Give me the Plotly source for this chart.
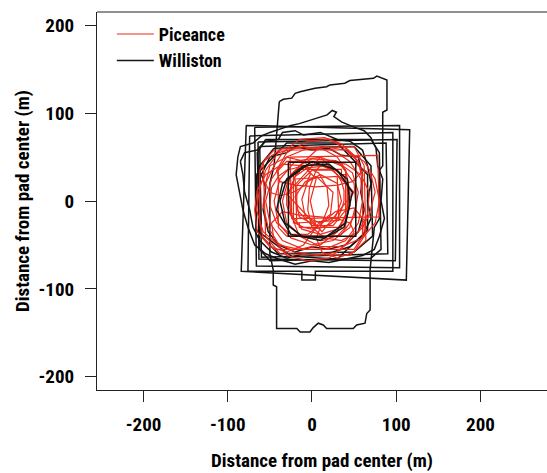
import plotly.graph_objects as go

# ---------------- data (metres from pad centre) ----------------
x_tick_values = [-200, -100, 0, 100, 200]
y_tick_values = [-200, -100, 0, 100, 200]
x_tick_labels = ["-200", "-100", "0", "100", "200"]
y_tick_labels = ["-200", "-100", "0", "100", "200"]

series_names = ["Piceance", "Williston"]

# Williston pad outlines (outer, drawn below the Piceance outlines)
williston_outer = [
    [(-78, 86), (116, 81), (112, -90), (-84, -80), (-78, 86)],
    [(-38.8, 113), (-34, 115.7), (-24, 117), (-20, 122.5), (-14, 124.3), (3.6, 128.2), (17.4, 130),
     (21.4, 132), (39, 134), (45, 137), (73, 139.6), (77, 142), (89, 137.7), (89, 103.5), (84, 101),
     (84, 40), (80, 35), (80, -20), (74, -30), (69, -78), (69, -124), (65, -128), (63, -139),
     (53, -141), (49, -145), (17.4, -145), (13.4, -141), (7.5, -139), (1.5, -144), (-2.4, -149),
     (-14, -149), (-18, -145), (-42, -145), (-42, -97.5), (-46, -95.6), (-46, -78.5), (-50, -60),
     (-50, 20), (-45, 40), (-42, 80), (-38.8, 113)],
    [(-68, 84), (104, 86), (104, -76), (-66, -74), (-68, 84)],
    [(-74, 74), (96, 78), (96, -80), (4, -80), (4, -90), (-12, -90), (-12, -80), (-76, -80), (-74, 74)],
    [(-88, 50), (-85, 62), (-70, 66), (-60, 74), (-50, 78), (-38, 82), (-25, 86), (-15, 88), (-2, 92),
     (10, 95), (18, 98), (24, 103), (29, 101), (26, 96), (35, 90), (50, 84), (62, 80), (70, 72),
     (76, 60), (78, 40), (84, 25), (82, 0), (86, -20), (80, -40), (74, -55), (60, -62), (40, -66),
     (20, -70), (0, -68), (-20, -72), (-40, -66), (-55, -60), (-68, -50), (-76, -30), (-82, -10),
     (-86, 10), (-90, 30), (-88, 50)],
    [(-64, 67), (101, 70), (99, -68), (-63, -66), (-64, 67)],
    [(-62, 62), (88, 66), (90, -60), (-60, -64), (-62, 62)],
    [(-55, 70), (70, 70), (80, 55), (82, -55), (70, -65), (-50, -68), (-62, -55), (-65, 55), (-55, 70)],
    [(-85, 45), (-80, 55), (-65, 58), (-55, 68), (-40, 70), (-35, 78), (-20, 80), (-10, 75), (10, 78),
     (30, 70), (45, 68), (60, 58), (66, 40), (70, 20), (66, 0), (70, -20), (60, -40), (45, -52),
     (25, -58), (10, -62), (-10, -60), (-30, -65), (-48, -58), (-62, -45), (-70, -30), (-74, -10),
     (-80, 10), (-82, 30), (-85, 45)],
    [(-66, 30), (-30, 66), (30, 66), (66, 30), (66, -33), (30, -66), (-24, -63), (-66, -33), (-66, 30)],
    [(-45, 60), (50, 62), (70, 40), (72, -40), (50, -58), (-40, -60), (-60, -40), (-62, 40), (-45, 60)],
    [(-50, 50), (-30, 55), (-20, 62), (0, 58), (20, 60), (35, 52), (55, 50), (60, 30), (58, 10),
     (62, -10), (55, -35), (40, -50), (20, -55), (0, -52), (-20, -58), (-40, -50), (-52, -35),
     (-58, -10), (-55, 15), (-60, 30), (-50, 50)],
]

# Williston inner outlines (drawn above the Piceance outlines)
williston_inner = [
    [(-10, 40), (20, 42), (42, 25), (45, -5), (38, -30), (15, -42), (-12, -40), (-32, -25), (-38, 0),
     (-30, 25), (-10, 40)],
    [(0, 45), (30, 35), (48, 10), (40, -25), (10, -45), (-25, -38), (-42, -10), (-35, 20), (0, 45)],
    [(-28, 44), (52, 44), (52, -40), (-28, -40), (-28, 44)],
]

# Piceance pad outlines
piceance = [
    [(-20, 45), (10, 50), (35, 40), (50, 20), (52, -5), (45, -30), (25, -45), (0, -50), (-25, -42),
     (-40, -25), (-45, 0), (-38, 25), (-20, 45)],
    [(-5, 60), (25, 58), (45, 45), (58, 25), (60, 0), (55, -25), (40, -45), (15, -55), (-10, -55),
     (-35, -45), (-50, -25), (-55, 0), (-48, 25), (-30, 50), (-5, 60)],
    [(-35, 40), (-30, 45), (30, 45), (35, 40), (40, 35), (40, -30), (35, -35), (30, -40), (-30, -40),
     (-35, -35), (-40, -30), (-40, 35), (-35, 40)],
    [(0, 35), (25, 35), (42, 18), (42, -8), (25, -28), (0, -28), (-18, -10), (-18, 18), (0, 35)],
    [(-40, 55), (-10, 62), (15, 58), (30, 50), (40, 35), (45, 10), (40, -15), (30, -35), (10, -50),
     (-15, -55), (-40, -50), (-58, -35), (-66, -10), (-62, 15), (-55, 35), (-40, 55)],
    [(10, 62), (40, 58), (62, 45), (75, 25), (80, 0), (75, -25), (60, -42), (35, -52), (10, -52),
     (-15, -40), (-25, -15), (-25, 15), (-15, 40), (10, 62)],
    [(-55, 48), (-45, 58), (40, 58), (55, 45), (60, 30), (60, -40), (50, -55), (-45, -55), (-58, -42),
     (-62, -25), (-62, 35), (-55, 48)],
    [(5, 28), (25, 10), (22, -15), (5, -28), (-15, -18), (-20, 5), (-8, 22), (5, 28)],
    [(-15, 70), (15, 72), (35, 65), (50, 52), (55, 40), (70, 30), (75, 10), (68, -15), (60, -30),
     (45, -45), (30, -58), (5, -62), (-20, -58), (-40, -48), (-52, -30), (-58, -5), (-55, 20),
     (-45, 40), (-35, 55), (-15, 70)],
    [(-35, -12), (-15, -16), (10, -18), (30, -20), (45, -25), (50, -35), (40, -50), (20, -65),
     (-5, -68), (-30, -62), (-45, -45), (-48, -25), (-35, -12)],
    [(-30, 55), (-5, 68), (20, 70), (40, 60), (55, 45), (58, 32), (48, 22), (30, 18), (5, 16),
     (-20, 18), (-38, 22), (-42, 35), (-30, 55)],
    [(-25, 30), (-20, 35), (-10, 38), (0, 42), (12, 40), (22, 36), (30, 30), (35, 22), (38, 12),
     (38, 0), (35, -10), (30, -20), (22, -26), (12, -30), (0, -32), (-10, -30), (-20, -25),
     (-26, -15), (-30, -5), (-30, 8), (-28, 20), (-25, 30)],
    [(15, 45), (40, 42), (58, 30), (68, 10), (66, -15), (55, -35), (35, -45), (15, -42), (0, -30),
     (-5, -10), (-3, 15), (5, 35), (15, 45)],
    [(-30, 35), (-10, 40), (8, 32), (18, 15), (20, -5), (12, -25), (-5, -38), (-25, -38), (-42, -25),
     (-50, -5), (-48, 15), (-40, 28), (-30, 35)],
    [(-20, 25), (30, 28), (32, -22), (-18, -25), (-20, 25)],
    [(10, 50), (50, 10), (12, -35), (-30, 8), (10, 50)],
    [(-55, 20), (-50, 40), (-30, 50), (-8, 45), (-2, 30), (-8, 18), (-22, 10), (-38, 6), (-50, 10),
     (-55, 20)],
    [(28, -12), (50, -8), (62, -22), (62, -40), (50, -58), (30, -65), (12, -58), (5, -42), (12, -25),
     (28, -12)],
    [(-55, 30), (-35, 42), (-10, 40), (5, 25), (-2, 0), (5, -30), (-10, -50), (-30, -58), (-50, -52),
     (-65, -35), (-68, -10), (-65, 12), (-55, 30)],
    [(-26, 50), (78, 52), (80, -18), (-24, -20), (-26, 50)],
    [(-5, 38), (20, 40), (38, 28), (45, 8), (42, -15), (30, -32), (10, -38), (-12, -32), (-25, -15),
     (-28, 8), (-20, 28), (-5, 38)],
    [(0, 48), (28, 46), (48, 32), (55, 10), (50, -18), (35, -38), (12, -45), (-12, -40), (-30, -25),
     (-35, 0), (-28, 25), (-15, 40), (0, 48)],
    [(-15, 32), (-15, 36), (35, 36), (35, 30), (40, 30), (40, -25), (35, -25), (35, -30), (-15, -30),
     (-15, -25), (-22, -25), (-22, 30), (-15, 32)],
    [(-35, 60), (50, 62), (62, 40), (64, -45), (45, -62), (-38, -60), (-55, -40), (-58, 45), (-35, 60)],
    [(10, 30), (30, 20), (35, 0), (28, -18), (10, -25), (-8, -18), (-12, 2), (-5, 22), (10, 30)],
]

# ---------------- figure ----------------
FONT = "Liberation Sans Narrow, Roboto Condensed, Arial Narrow, Roboto, sans-serif"
RED = "#ec2a1a"
BLACK = "#141414"
TEXT_FONT = dict(family=FONT, size=19, color="black", weight="bold")
LEGEND_FONT = dict(family=FONT, size=18, color="black", weight="bold")

fig = go.Figure()


def add_polys(polys, color, width, name, show_first, rank):
    for i, poly in enumerate(polys):
        xs = [p[0] for p in poly]
        ys = [p[1] for p in poly]
        fig.add_trace(go.Scatter(
            x=xs, y=ys, mode="lines",
            line=dict(color=color, width=width),
            name=name, legendgroup=name,
            showlegend=(show_first and i == 0),
            legendrank=rank, hoverinfo="skip",
        ))


add_polys(williston_outer, BLACK, 1.5, series_names[1], True, 2)
add_polys(piceance, RED, 1.2, series_names[0], True, 1)
add_polys(williston_inner, BLACK, 1.5, series_names[1], False, 2)

axis_common = dict(
    showgrid=False, zeroline=False, showline=True, linecolor="#222", linewidth=1.2,
    ticks="outside", ticklen=11, tickwidth=1.2, tickcolor="#222",
    tickfont=TEXT_FONT,
)

fig.update_layout(
    width=547, height=473,
    margin=dict(l=97, r=0, t=12, b=83, autoexpand=False),
    paper_bgcolor="white", plot_bgcolor="white",
    showlegend=True,
    legend=dict(
        x=0.033, y=0.99, xanchor="left", yanchor="top",
        bgcolor="rgba(0,0,0,0)", borderwidth=0,
        font=LEGEND_FONT,
        itemwidth=37, tracegroupgap=0,
    ),
    xaxis=dict(
        range=[-255.2, 279], tickvals=x_tick_values, ticktext=x_tick_labels,
        ticklabelstandoff=6,
        title=dict(text="Distance from pad center (m)", standoff=18, font=TEXT_FONT),
        **axis_common,
    ),
    yaxis=dict(
        range=[-215, 215], tickvals=y_tick_values, ticktext=y_tick_labels,
        ticklabelstandoff=7,
        title=dict(text="Distance from pad center (m)", standoff=3, font=TEXT_FONT),
        **axis_common,
    ),
    shapes=[dict(type="line", xref="paper", yref="paper", x0=0, x1=1, y0=1, y1=1,
                 line=dict(color="#222", width=1.2))],
)

fig.write_html("out.html", post_script="document.body.style.margin='0';",
               config={"displayModeBar": False})
